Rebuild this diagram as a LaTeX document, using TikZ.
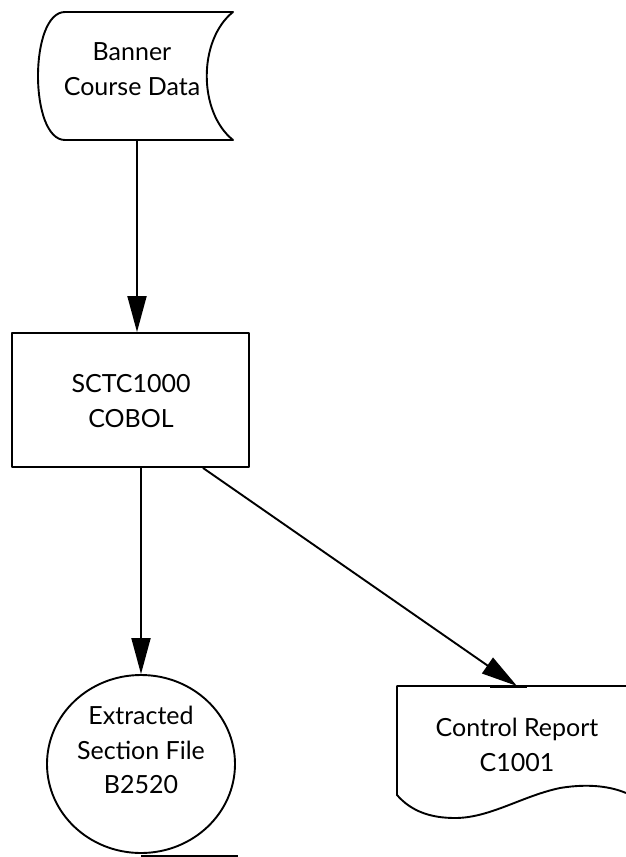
\documentclass[tikz,border=0pt]{standalone}
\usepackage{fontspec}
\setmainfont{Lato}
\usetikzlibrary{arrows.meta,shapes.geometric}
\begin{document}
\begin{tikzpicture}[x=1pt,y=-1pt,
  outline/.style={line width=1.9pt, line join=round},
  flow/.style={line width=1.9pt, -{Triangle[length=36pt,width=19pt]}},
  lbl/.style={align=center, font=\fontsize{25}{34.5}\selectfont, inner sep=0pt}]
\useasboundingbox (0,0) rectangle (626,857);

% stored data: Banner course data
\coordinate (dTL) at (65,12);
\coordinate (dTR) at (233,12);
\coordinate (dBR) at (233,140);
\coordinate (dBL) at (65,140);
\draw[outline] (dTL) -- (dTR) .. controls (198,40) and (198,112) .. (dBR)
  -- (dBL) .. controls (29,140) and (29,12) .. cycle;
\node[lbl] (data) at (132,69) {Banner\\Course Data};
\coordinate (dataOut) at (137,140);

% process box
\node[draw, outline, minimum width=237pt, minimum height=134pt, inner sep=0pt]
  (proc) at (130.5,400) {};
\node[lbl] (proctext) at (131,401) {SCTC1000\\COBOL};

% sequential storage (tape)
\node[draw, outline, ellipse, minimum width=188pt, minimum height=178pt, inner sep=0pt]
  (tape) at (141,764) {};
\node[lbl] (tapetext) at (141,750) {Extracted\\Section File\\B2520};
\coordinate (tapeEnd) at (238,856);
\draw[outline] (tape.south |- tapeEnd) -- (tapeEnd);

% printed report (runs off the right edge)
\coordinate (rTL) at (397,686);
\coordinate (rTR) at (626,686);
\draw[outline] (rTR) -- (rTL) -- (397,795)
  .. controls (411,811) and (430,818) .. (455,818)
  .. controls (490,818) and (522,796) .. (560,788)
  .. controls (590,783) and (612,787) .. (626,793);
\node[lbl] (report) at (517,745) {Control Report\\C1001};
\coordinate (reportIn) at (517,686);
\fill (490,684.5) rectangle (527,688);

% connectors
\draw[flow] (dataOut) -- (proc.north -| dataOut);
\draw[flow] (proc.south -| tape.north) -- (tape.north);
\draw[flow] (proc.south -| 203,0) -- (reportIn);
\end{tikzpicture}
\end{document}
